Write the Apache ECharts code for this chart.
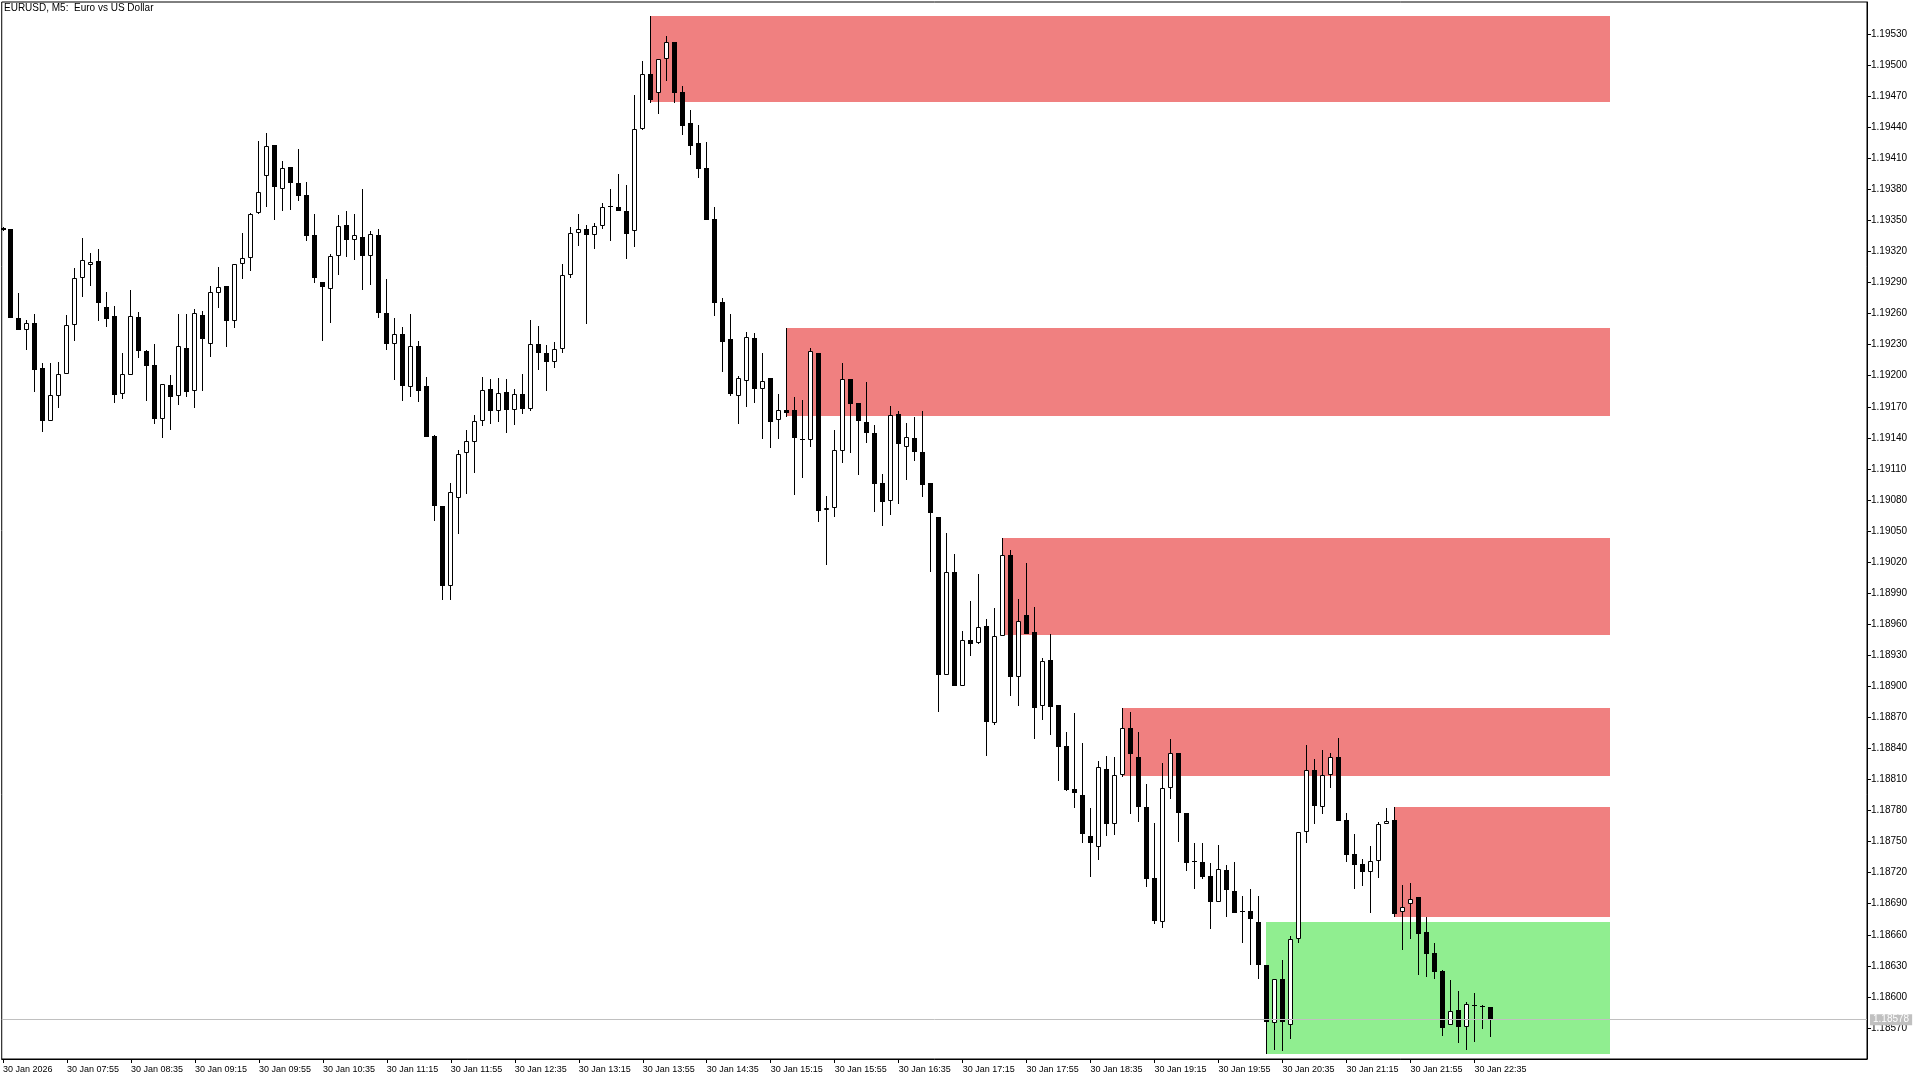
<!DOCTYPE html>
<html>
<head>
<meta charset="utf-8">
<title>EURUSD, M5</title>
<script src="https://cdn.jsdelivr.net/npm/echarts@6/dist/echarts.min.js"></script>
<style>
  html, body { margin: 0; padding: 0; background: #fff; }
  #main { width: 1920px; height: 1080px; }
</style>
</head>
<body>
<div id="main"></div>
<script>
// EURUSD M5 bars, 30 Jan 2026 07:15 .. 22:45, x value = bar index
var opens = [
  1.19343,1.19342,1.19256,1.19244,1.19251,1.19207,1.19156,1.19180,1.19202,1.19249,
  1.19294,1.19307,1.19311,1.19266,1.19258,1.19182,1.19201,1.19257,1.19224,1.19210,
  1.19158,1.19191,1.19180,1.19227,1.19185,1.19259,1.19231,1.19280,1.19287,1.19253,
  1.19308,1.19314,1.19357,1.19393,1.19423,1.19380,1.19402,1.19386,1.19375,1.19336,
  1.19291,1.19284,1.19316,1.19346,1.19331,1.19334,1.19316,1.19336,1.19261,1.19231,
  1.19240,1.19189,1.19229,1.19190,1.19142,1.19074,1.18997,1.19082,1.19125,1.19136,
  1.19156,1.19187,1.19166,1.19184,1.19167,1.19182,1.19168,1.19231,1.19222,1.19213,
  1.19226,1.19297,1.19338,1.19342,1.19336,1.19345,1.19363,1.19363,1.19359,1.19340,
  1.19438,1.19491,1.19473,1.19506,1.19522,1.19474,1.19444,1.19425,1.19401,1.19351,
  1.19271,1.19235,1.19180,1.19195,1.19236,1.19187,1.19198,1.19157,1.19167,1.19167,
  1.19139,1.19138,1.19222,1.19070,1.19072,1.19127,1.19197,1.19174,1.19155,1.19145,
  1.19096,1.19079,1.19163,1.19131,1.19140,1.19126,1.19096,1.19064,1.18911,1.19010,
  1.18900,1.18945,1.18942,1.18958,1.18865,1.18949,1.19027,1.18909,1.18969,1.18952,
  1.18881,1.18925,1.18882,1.18842,1.18801,1.18795,1.18755,1.18745,1.18820,1.18767,
  1.18814,1.18860,1.18832,1.18783,1.18715,1.18672,1.18802,1.18836,1.18778,1.18731,
  1.18730,1.18717,1.18692,1.18723,1.18702,1.18683,1.18683,1.18672,1.18631,1.18575,
  1.18617,1.18573,1.18656,1.18759,1.18819,1.18783,1.18814,1.18832,1.18771,1.18738,
  1.18728,1.18721,1.18731,1.18767,1.18771,1.18682,1.18690,1.18696,1.18663,1.18642,
  1.18625,1.18573,1.18587,1.18571,1.18592,1.18591,1.18590
];
var highs = [
  1.19344,1.19342,1.19280,1.19254,1.19260,1.19212,1.19212,1.19213,1.19259,1.19304,
  1.19333,1.19319,1.19322,1.19281,1.19267,1.19222,1.19283,1.19262,1.19225,1.19231,
  1.19192,1.19201,1.19260,1.19260,1.19264,1.19263,1.19287,1.19305,1.19287,1.19308,
  1.19338,1.19357,1.19427,1.19434,1.19423,1.19407,1.19402,1.19419,1.19387,1.19356,
  1.19291,1.19318,1.19355,1.19359,1.19356,1.19380,1.19340,1.19342,1.19293,1.19256,
  1.19247,1.19260,1.19234,1.19199,1.19143,1.19074,1.19096,1.19128,1.19148,1.19162,
  1.19199,1.19197,1.19198,1.19197,1.19187,1.19202,1.19254,1.19248,1.19230,1.19233,
  1.19308,1.19344,1.19356,1.19346,1.19348,1.19367,1.19380,1.19395,1.19384,1.19471,
  1.19504,1.19547,1.19506,1.19528,1.19522,1.19480,1.19457,1.19442,1.19426,1.19363,
  1.19275,1.19260,1.19200,1.19242,1.19241,1.19222,1.19198,1.19182,1.19246,1.19179,
  1.19177,1.19227,1.19222,1.19084,1.19148,1.19212,1.19197,1.19174,1.19194,1.19152,
  1.19105,1.19171,1.19166,1.19154,1.19160,1.19166,1.19096,1.19064,1.19048,1.19028,
  1.18953,1.18982,1.19008,1.18965,1.18976,1.19043,1.19032,1.18984,1.19019,1.18977,
  1.18927,1.18951,1.18882,1.18856,1.18874,1.18845,1.18782,1.18828,1.18833,1.18832,
  1.18879,1.18875,1.18856,1.18806,1.18768,1.18826,1.18849,1.18836,1.18778,1.18749,
  1.18749,1.18729,1.18747,1.18727,1.18730,1.18697,1.18704,1.18697,1.18631,1.18617,
  1.18636,1.18659,1.18759,1.18843,1.18830,1.18838,1.18836,1.18850,1.18778,1.18757,
  1.18733,1.18746,1.18769,1.18782,1.18783,1.18708,1.18710,1.18696,1.18677,1.18652,
  1.18626,1.18616,1.18606,1.18595,1.18604,1.18592,1.18590
];
var lows = [
  1.19340,1.19256,1.19244,1.19225,1.19184,1.19146,1.19156,1.19169,1.19202,1.19234,
  1.19276,1.19287,1.19253,1.19247,1.19174,1.19178,1.19201,1.19217,1.19176,1.19153,
  1.19140,1.19148,1.19172,1.19179,1.19169,1.19185,1.19218,1.19265,1.19228,1.19246,
  1.19293,1.19301,1.19356,1.19363,1.19350,1.19359,1.19360,1.19369,1.19330,1.19290,
  1.19234,1.19251,1.19297,1.19315,1.19312,1.19283,1.19288,1.19256,1.19225,1.19196,
  1.19176,1.19179,1.19175,1.19141,1.19060,1.18983,1.18983,1.19047,1.19086,1.19106,
  1.19151,1.19153,1.19155,1.19145,1.19152,1.19163,1.19166,1.19206,1.19185,1.19207,
  1.19222,1.19294,1.19325,1.19250,1.19322,1.19342,1.19330,1.19359,1.19313,1.19324,
  1.19437,1.19463,1.19453,1.19485,1.19463,1.19433,1.19413,1.19391,1.19350,1.19258,
  1.19204,1.19180,1.19153,1.19170,1.19174,1.19139,1.19130,1.19139,1.19160,1.19085,
  1.19101,1.19131,1.19059,1.19017,1.19064,1.19116,1.19125,1.19104,1.19135,1.19068,
  1.19055,1.19065,1.19076,1.19099,1.19118,1.19083,1.19010,1.18875,1.18911,1.18900,
  1.18900,1.18929,1.18941,1.18833,1.18863,1.18949,1.18891,1.18881,1.18951,1.18849,
  1.18867,1.18853,1.18809,1.18799,1.18782,1.18749,1.18716,1.18732,1.18755,1.18756,
  1.18812,1.18777,1.18769,1.18706,1.18670,1.18667,1.18791,1.18750,1.18722,1.18704,
  1.18714,1.18666,1.18692,1.18677,1.18681,1.18652,1.18631,1.18617,1.18545,1.18549,
  1.18548,1.18559,1.18652,1.18749,1.18767,1.18777,1.18802,1.18770,1.18730,1.18704,
  1.18707,1.18681,1.18715,1.18767,1.18677,1.18645,1.18656,1.18621,1.18619,1.18617,
  1.18562,1.18573,1.18555,1.18549,1.18556,1.18569,1.18561
];
var closes = [
  1.19341,1.19256,1.19244,1.19251,1.19206,1.19156,1.19181,1.19202,1.19249,1.19294,
  1.19312,1.19310,1.19270,1.19255,1.19181,1.19202,1.19258,1.19224,1.19209,1.19158,
  1.19192,1.19179,1.19229,1.19184,1.19261,1.19235,1.19281,1.19286,1.19253,1.19308,
  1.19314,1.19356,1.19377,1.19422,1.19382,1.19401,1.19386,1.19374,1.19335,1.19294,
  1.19286,1.19316,1.19345,1.19331,1.19336,1.19316,1.19337,1.19261,1.19231,1.19240,
  1.19190,1.19229,1.19185,1.19141,1.19074,1.18997,1.19088,1.19124,1.19137,1.19156,
  1.19186,1.19166,1.19183,1.19167,1.19182,1.19168,1.19231,1.19222,1.19213,1.19226,
  1.19297,1.19338,1.19342,1.19336,1.19345,1.19363,1.19364,1.19359,1.19337,1.19438,
  1.19491,1.19466,1.19506,1.19522,1.19473,1.19441,1.19422,1.19400,1.19350,1.19270,
  1.19233,1.19182,1.19198,1.19237,1.19187,1.19195,1.19155,1.19167,1.19164,1.19140,
  1.19138,1.19224,1.19069,1.19072,1.19128,1.19197,1.19173,1.19156,1.19145,1.19095,
  1.19078,1.19162,1.19134,1.19141,1.19126,1.19094,1.19067,1.18911,1.19010,1.18900,
  1.18945,1.18941,1.18957,1.18866,1.18949,1.19027,1.18909,1.18963,1.18951,1.18879,
  1.18924,1.18880,1.18841,1.18800,1.18797,1.18757,1.18749,1.18822,1.18767,1.18814,
  1.18860,1.18835,1.18783,1.18714,1.18673,1.18802,1.18836,1.18778,1.18729,1.18730,
  1.18716,1.18692,1.18724,1.18703,1.18681,1.18682,1.18675,1.18631,1.18576,1.18617,
  1.18576,1.18656,1.18759,1.18819,1.18784,1.18814,1.18832,1.18770,1.18737,1.18727,
  1.18721,1.18731,1.18767,1.18770,1.18680,1.18687,1.18695,1.18661,1.18641,1.18624,
  1.18570,1.18586,1.18571,1.18593,1.18591,1.18590,1.18578
];

// bottom axis: bar index and text of each time label
var timeTickBars = [0, 8, 16, 24, 32, 40, 48, 56, 64, 72, 80, 88, 96, 104, 112, 120, 128, 136, 144, 152, 160, 168, 176, 184];
var timeTickLabels = [
  '30 Jan 2026', '30 Jan 07:55', '30 Jan 08:35', '30 Jan 09:15', '30 Jan 09:55', '30 Jan 10:35',
  '30 Jan 11:15', '30 Jan 11:55', '30 Jan 12:35', '30 Jan 13:15', '30 Jan 13:55', '30 Jan 14:35',
  '30 Jan 15:15', '30 Jan 15:55', '30 Jan 16:35', '30 Jan 17:15', '30 Jan 17:55', '30 Jan 18:35',
  '30 Jan 19:15', '30 Jan 19:55', '30 Jan 20:35', '30 Jan 21:15', '30 Jan 21:55', '30 Jan 22:35'
];

// right axis price labels
var priceTicks = [
  1.18570, 1.18600, 1.18630, 1.18660, 1.18690, 1.18720, 1.18750, 1.18780, 1.18810, 1.18840, 1.18870,
  1.18900, 1.18930, 1.18960, 1.18990, 1.19020, 1.19050, 1.19080, 1.19110, 1.19140, 1.19170, 1.19200,
  1.19230, 1.19260, 1.19290, 1.19320, 1.19350, 1.19380, 1.19410, 1.19440, 1.19470, 1.19500, 1.19530
];

// supply / demand zones: first bar, last bar, upper and lower price
var zoneFrom   = [81, 98, 125, 140, 174, 158];
var zoneTo     = [201, 201, 201, 201, 201, 201];
var zoneTop    = [1.19547, 1.19246, 1.19043, 1.18879, 1.18783, 1.18672];
var zoneBottom = [1.19464, 1.19161, 1.18950, 1.18813, 1.18677, 1.18545];
var zoneKind   = ['supply', 'supply', 'supply', 'supply', 'supply', 'demand'];

var lastPrice = 1.18578;

var FONT = "'Liberation Sans', Arial, sans-serif";
var zoneColors = { supply: '#F08080', demand: '#90EE90' };

var chart = echarts.init(document.getElementById('main'));

var candleData = opens.map(function (o, i) {
  return [i, o, closes[i], lows[i], highs[i]];
});
var zoneData = zoneFrom.map(function (f, i) {
  return [f, zoneTo[i], zoneTop[i], zoneBottom[i], i];
});

// one bar: 1px wick, 5px body (black = down, white with black border = up)
function renderCandle(params, api) {
  var i = api.value(0);
  var o = api.value(1), c = api.value(2), l = api.value(3), h = api.value(4);
  var pO = api.coord([i, o]);
  var pC = api.coord([i, c]);
  var yH = Math.round(api.coord([i, h])[1]);
  var yL = Math.round(api.coord([i, l])[1]);
  var xc = Math.round(pO[0] - 0.5) + 0.5;
  var top = Math.round(Math.min(pO[1], pC[1]));
  var bot = Math.round(Math.max(pO[1], pC[1]));
  var children = [{
    type: 'line',
    shape: { x1: xc, y1: yH, x2: xc, y2: Math.max(yL, yH + 1) },
    style: { stroke: '#000', lineWidth: 1 }
  }];
  if (bot - top <= 1) {
    children.push({
      type: 'rect',
      shape: { x: xc - 2.5, y: top, width: 5, height: 1 },
      style: { fill: '#000' }
    });
  } else if (c > o) {
    children.push({
      type: 'rect',
      shape: { x: xc - 2, y: top + 0.5, width: 4, height: bot - top - 1 },
      style: { fill: '#fff', stroke: '#000', lineWidth: 1 }
    });
  } else {
    children.push({
      type: 'rect',
      shape: { x: xc - 2.5, y: top, width: 5, height: bot - top },
      style: { fill: '#000' }
    });
  }
  return { type: 'group', children: children };
}

function renderZone(params, api) {
  var p1 = api.coord([api.value(0), api.value(2)]);
  var p2 = api.coord([api.value(1), api.value(3)]);
  var k = zoneKind[api.value(4)];
  var x1 = Math.round(p1[0] - 0.5);
  var y1 = Math.round(p1[1]);
  return {
    type: 'rect',
    shape: { x: x1, y: y1, width: Math.round(p2[0]) - x1, height: Math.round(p2[1]) - y1 },
    style: { fill: zoneColors[k] }
  };
}

var option = {
  backgroundColor: '#fff',
  animation: false,
  title: {
    text: 'EURUSD, M5:  Euro vs US Dollar',
    left: 4,
    top: 3,
    padding: 0,
    textStyle: { fontSize: 10, fontWeight: 'normal', color: '#000', fontFamily: FONT }
  },
  grid: {
    left: 1,
    right: 53,
    top: 2,
    bottom: 21,
    show: true,
    borderColor: '#000',
    borderWidth: 1,
    backgroundColor: '#fff'
  },
  xAxis: {
    type: 'value',
    min: -0.16,
    max: 233.09,
    splitLine: { show: false },
    axisLine: { show: true, onZero: false, lineStyle: { color: '#000', width: 1 } },
    axisTick: { show: true, length: 4, lineStyle: { color: '#000' }, customValues: timeTickBars },
    axisLabel: {
      customValues: timeTickBars,
      formatter: function (v) {
        var k = timeTickBars.indexOf(Math.round(v));
        return k >= 0 ? timeTickLabels[k] : '';
      },
      align: 'left',
      margin: 6,
      color: '#000',
      fontSize: 9,
      fontFamily: FONT
    }
  },
  yAxis: {
    type: 'value',
    position: 'right',
    min: 1.18540,
    max: 1.19561,
    splitLine: { show: false },
    axisLine: { show: true, onZero: false, lineStyle: { color: '#000', width: 1 } },
    axisTick: { show: true, length: 4, lineStyle: { color: '#000' }, customValues: priceTicks },
    axisLabel: {
      customValues: priceTicks,
      formatter: function (v) { return v.toFixed(5); },
      margin: 4,
      color: '#000',
      fontSize: 10,
      fontFamily: FONT
    }
  },
  series: [
    {
      name: 'zones',
      type: 'custom',
      z: 1,
      clip: true,
      silent: true,
      renderItem: renderZone,
      encode: { x: [0, 1], y: [2, 3] },
      data: zoneData
    },
    {
      // current bid line with its price box on the axis
      name: 'bid',
      type: 'line',
      z: 2,
      silent: true,
      data: [],
      markLine: {
        silent: true,
        symbol: 'none',
        animation: false,
        precision: 5,
        lineStyle: { color: '#c0c0c0', type: 'solid', width: 1 },
        label: {
          show: true,
          position: 'end',
          distance: 3,
          formatter: function () { return lastPrice.toFixed(5); },
          color: '#fff',
          backgroundColor: '#c0c0c0',
          padding: [1, 3, 0, 3],
          fontSize: 10,
          fontFamily: FONT
        },
        data: [{ yAxis: lastPrice }]
      }
    },
    {
      name: 'EURUSD',
      type: 'custom',
      z: 3,
      clip: true,
      silent: true,
      renderItem: renderCandle,
      encode: { x: 0, y: [1, 2, 3, 4] },
      data: candleData
    }
  ]
};

chart.setOption(option);
window.onresize = function () {
  chart.resize();
};
</script>
</body>
</html>
